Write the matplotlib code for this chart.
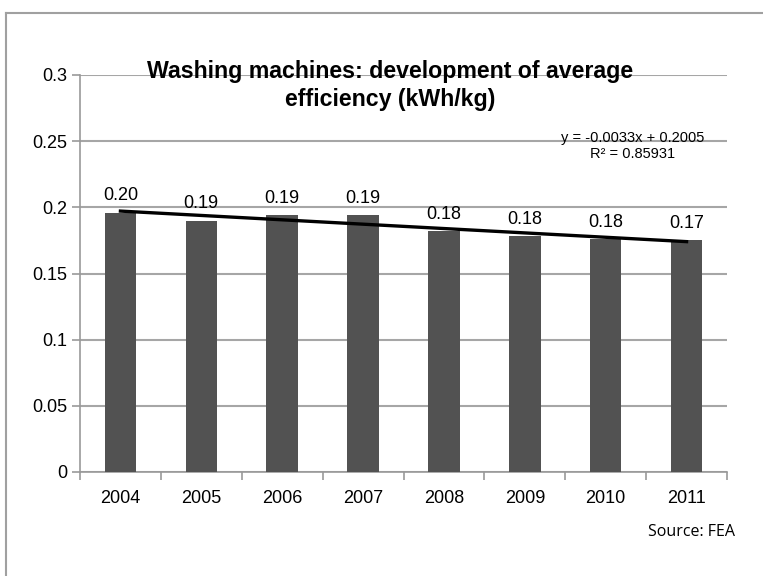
import matplotlib
matplotlib.use("Agg")
import matplotlib.pyplot as plt
from matplotlib.lines import Line2D
import numpy as np

# data
years = ["2004", "2005", "2006", "2007", "2008", "2009", "2010", "2011"]
efficiency = [0.196, 0.190, 0.194, 0.194, 0.182, 0.178, 0.176, 0.175]
value_labels = ["0.20", "0.19", "0.19", "0.19", "0.18", "0.18", "0.18", "0.17"]
y_ticks = [0, 0.05, 0.1, 0.15, 0.2, 0.25, 0.3]
y_tick_labels = ["0", "0.05", "0.1", "0.15", "0.2", "0.25", "0.3"]
trend_text = "y = -0.0033x + 0.2005\nR\u00b2 = 0.85931"

plt.rcParams['font.family'] = ['Liberation Sans', 'DejaVu Sans']

W, H = 763, 576
fig = plt.figure(figsize=(W / 100, H / 100), dpi=100)
ax = fig.add_axes([80/W, 1 - 472/H, 647/W, 397/H])

x = np.arange(len(years))
ax.bar(x, efficiency, width=0.39, color='#525252', zorder=3)

# linear trend line (Excel style, x = 1..n)
xn = x + 1
slope, intercept = np.polyfit(xn, efficiency, 1)
ax.plot(x, slope * xn + intercept, color='black', lw=2.4, zorder=4)

for xi, v, lab in zip(x, efficiency, value_labels):
    ax.annotate(lab, (xi, v), xytext=(0, 6), textcoords='offset points',
                ha='center', va='bottom', fontsize=13, zorder=5)

fig.text(633/W, 1 - 146/H, trend_text, ha='center', va='center',
         fontsize=10.5, linespacing=1.1)

ax.set_xlim(-0.5, len(years) - 0.5)
ax.set_ylim(0, 0.3)
ax.set_yticks(y_ticks)
ax.set_yticklabels(y_tick_labels, fontsize=13)
ax.set_xticks(x)
ax.set_xticklabels(years, fontsize=13)
ax.set_xticks(np.arange(len(years) + 1) - 0.5, minor=True)
ax.tick_params(axis='x', which='major', length=0, pad=13)
ax.tick_params(axis='x', which='minor', length=6, color='#999999', width=1.2)
ax.tick_params(axis='y', length=6, color='#999999', width=1.2, pad=3)

ax.grid(axis='y', color='#a6a6a6', lw=1.5, zorder=0)
for s in ['top', 'right']:
    ax.spines[s].set_visible(False)
for s in ['left', 'bottom']:
    ax.spines[s].set_color('#999999')
    ax.spines[s].set_linewidth(1.2)

# title, two lines
fig.text(390/W, 1 - 78/H, "Washing machines: development of average",
         ha='center', va='baseline', fontsize=16.7, fontweight='bold')
fig.text(390/W, 1 - 106/H, "efficiency (kWh/kg)",
         ha='center', va='baseline', fontsize=16.7, fontweight='bold')

fig.text(735/W, 1 - 532/H, "Source: FEA", ha='right', va='center',
         fontsize=11.5, family=['Open Sans', 'DejaVu Sans'])

# chart frame (left and top edges visible)
fig.add_artist(Line2D([6/W, 6/W], [0, 1 - 13/H], transform=fig.transFigure,
                      color='#a0a0a0', lw=1.5))
fig.add_artist(Line2D([6/W, 1], [1 - 13/H, 1 - 13/H], transform=fig.transFigure,
                      color='#a0a0a0', lw=1.5))

fig.savefig("out.png", dpi=100)
